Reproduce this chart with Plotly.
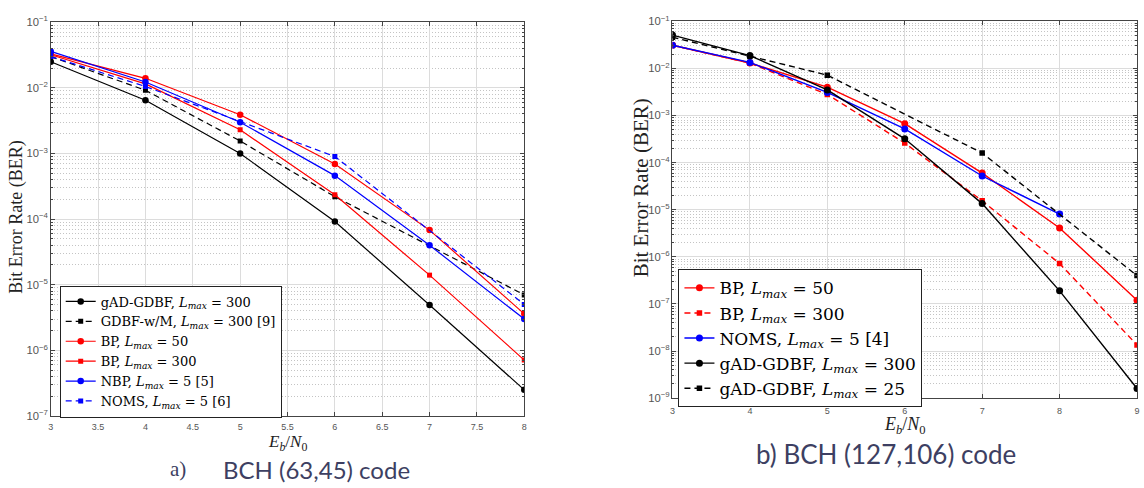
import plotly.graph_objects as go

# ---------------- data ----------------
ebn0_a = [3, 4, 5, 6, 7, 8]
a_gad300 = [2.5e-2, 6.5e-3, 1.0e-3, 9.2e-5, 4.9e-6, 2.5e-7]
a_gdbfwm = [3.0e-2, 9.2e-3, 1.55e-3, 2.2e-4, None, 7.0e-6]
a_bp50 = [3.3e-2, 1.4e-2, 3.9e-3, 6.9e-4, 6.8e-5, 3.6e-6]
a_bp300 = [3.2e-2, 1.15e-2, 2.3e-3, 2.35e-4, 1.4e-5, 7.1e-7]
a_nbp = [3.6e-2, 1.23e-2, 3.0e-3, 4.6e-4, 4.0e-5, 3.0e-6]
a_noms = [3.0e-2, 1.05e-2, None, 9.0e-4, None, 5.0e-6]

ebn0_b = [3, 4, 5, 6, 7, 8, 9]
b_bp50 = [3.1e-2, 1.3e-2, 4.0e-3, 6.7e-4, 6.0e-5, 4.1e-6, 1.2e-7]
b_bp300 = [3.1e-2, 1.3e-2, 2.8e-3, 2.6e-4, 1.55e-5, 7.2e-7, 1.35e-8]
b_noms = [3.1e-2, 1.34e-2, 3.1e-3, 5.2e-4, 5.2e-5, 8.1e-6, None]
b_gad300 = [5.1e-2, 1.87e-2, 3.5e-3, 3.2e-4, 1.35e-5, 1.9e-7, 1.6e-9]
b_gad25 = [4.6e-2, 1.8e-2, 7.2e-3, None, 1.6e-4, None, 4.0e-7]

LM = "<i>L</i><sub><i>max</i></sub>"
names_a = [
    f"gAD-GDBF, {LM} = 300",
    f"GDBF-w/M, {LM} = 300 [9]",
    f"BP, {LM} = 50",
    f"BP, {LM} = 300",
    f"NBP, {LM} = 5 [5]",
    f"NOMS, {LM} = 5 [6]",
]
names_b = [
    f"BP, {LM} = 50",
    f"BP, {LM} = 300",
    f"NOMS, {LM} = 5 [4]",
    f"gAD-GDBF, {LM} = 300",
    f"gAD-GDBF, {LM} = 25",
]

DASH = "6px,4px"
fig = go.Figure()

series_a = [
    (a_gad300, "black", "solid", "circle"),
    (a_gdbfwm, "black", DASH, "square"),
    (a_bp50, "red", "solid", "circle"),
    (a_bp300, "red", "solid", "square"),
    (a_nbp, "blue", "solid", "circle"),
    (a_noms, "blue", DASH, "square"),
]
for (ys, col, dash, sym), nm in zip(series_a, names_a):
    fig.add_trace(go.Scatter(
        x=ebn0_a, y=ys, name=nm, mode="lines+markers", connectgaps=True,
        line=dict(color=col, width=1.2, dash=dash),
        marker=dict(color=col, symbol=sym, size=6.5 if sym == "circle" else 5),
        xaxis="x", yaxis="y", legend="legend"))

series_b = [
    (b_bp50, "red", "solid", "circle"),
    (b_bp300, "red", DASH, "square"),
    (b_noms, "blue", "solid", "circle"),
    (b_gad300, "black", "solid", "circle"),
    (b_gad25, "black", DASH, "square"),
]
for (ys, col, dash, sym), nm in zip(series_b, names_b):
    fig.add_trace(go.Scatter(
        x=ebn0_b, y=ys, name=nm, mode="lines+markers", connectgaps=True,
        line=dict(color=col, width=1.4, dash=dash),
        marker=dict(color=col, symbol=sym, size=7 if sym == "circle" else 5.5),
        xaxis="x2", yaxis="y2", legend="legend2"))

W, H = 1144, 488
grid = "#dcdcdc"
tickfont = dict(family="Liberation Sans", size=9, color="#555555")

def xax(dom, rng, dtick, anchor, standoff):
    return dict(domain=dom, range=rng, dtick=dtick, tick0=3, anchor=anchor,
                showgrid=True, gridcolor=grid, gridwidth=1,
                showline=True, linecolor="#444444", linewidth=1, mirror="allticks",
                ticks="inside", ticklen=4, tickcolor="#444444", ticklabelstandoff=standoff,
                tickfont=tickfont, zeroline=False)

def yax(dom, rng, anchor):
    return dict(type="log", domain=dom, range=rng, dtick=1, exponentformat="power",
                anchor=anchor, showgrid=True, gridcolor=grid, gridwidth=1,
                showline=True, linecolor="#444444", linewidth=1, mirror="allticks",
                ticks="inside", ticklen=4, tickcolor="#444444", tickfont=tickfont,
                minor=dict(dtick="D1", showgrid=True, gridcolor="#c4c4c4", griddash="1px,2px",
                           gridwidth=1, ticks="inside", ticklen=2, tickcolor="#444444"),
                zeroline=False)

fig.update_layout(
    width=W, height=H, margin=dict(l=0, r=0, t=0, b=0),
    paper_bgcolor="white", plot_bgcolor="white",
    xaxis=xax([48 / W, 524 / W], [3, 8], 0.5, "y", 2),
    yaxis=yax([68 / H, 473.3 / H], [-7, -1], "x"),
    xaxis2=xax([673 / W, 1140 / W], [3, 9], 1, "y2", 4),
    yaxis2=yax([86.3 / H, 474.3 / H], [-9, -1], "x2"),
    legend=dict(x=57 / W, y=(H - 285.7) / H, xanchor="left", yanchor="top",
                bgcolor="white", bordercolor="#222222", borderwidth=1,
                font=dict(family="DejaVu Serif", size=13, color="black"),
                itemwidth=30, tracegroupgap=0),
    legend2=dict(x=679 / W, y=(H - 269) / H, xanchor="left", yanchor="top",
                 bgcolor="white", bordercolor="#222222", borderwidth=1,
                 font=dict(family="DejaVu Serif", size=17, color="black"),
                 itemwidth=30, tracegroupgap=0),
    showlegend=True,
)

serif = "Liberation Serif"
cap_col = "#3d3f62"

def ann(text, x, y, size, family=serif, color="#222222", angle=0):
    fig.add_annotation(text=text, textangle=angle, x=x / W, y=(H - y) / H,
                       xref="paper", yref="paper", xanchor="center", yanchor="middle",
                       showarrow=False, borderpad=0,
                       font=dict(family=family, size=size, color=color))

ann("Bit Error Rate (BER)", 14, 215, 18, angle=-90)
ann("Bit Error Rate (BER)", 641, 185, 21, angle=-90)
ann("<i>E</i><sub><i>b</i></sub>/<i>N</i><sub>0</sub>", 286, 448, 17)
ann("<i>E</i><sub><i>b</i></sub>/<i>N</i><sub>0</sub>", 907, 430, 18)
ann("a)", 176, 475, 21, color=cap_col)
ann("BCH (63,45) code", 315, 475, 24, family="Lato", color=cap_col)
ann("b) BCH (127,106) code", 888, 459, 26, family="Lato", color=cap_col)

fig.write_html("out.html")
